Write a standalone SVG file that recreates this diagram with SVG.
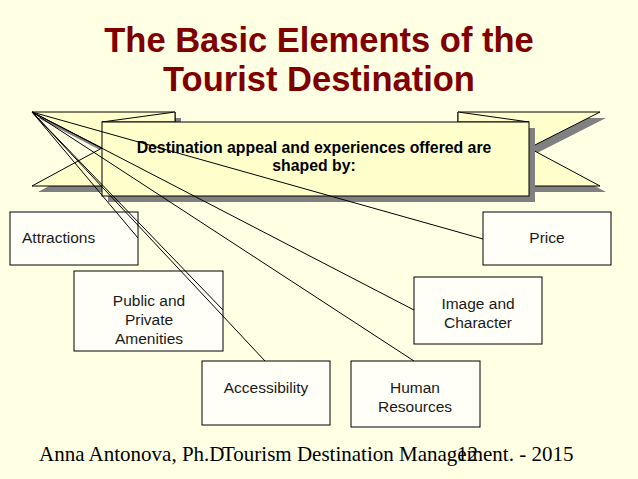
<svg xmlns="http://www.w3.org/2000/svg" width="638" height="479" viewBox="0 0 638 479">
<style>
.bg{fill:#FFFFE3}
.rib{fill:#FFFFCC;stroke:#000;stroke-width:1}
.sh{fill:#808080}
.box{fill:#FFFFF8;stroke:#000;stroke-width:1}
.lbl{font-family:"Liberation Sans",Arial,sans-serif;font-size:15.5px;fill:#1a1a1a;text-anchor:middle}
.ttl{font-family:"Liberation Sans",Arial,sans-serif;font-size:34.5px;font-weight:bold;fill:#800000;text-anchor:middle}
.ban{font-family:"Liberation Sans",Arial,sans-serif;font-size:15.8px;font-weight:bold;fill:#000;text-anchor:middle}
.ftr{font-family:"Liberation Serif","Times New Roman",serif;font-size:21px;fill:#000}
.con{stroke:#000;stroke-width:1;fill:none}
</style>
<rect class="bg" x="0" y="0" width="638" height="479"/>
<g id="title">
<text class="ttl" x="319" y="52">The Basic Elements of the</text>
<text class="ttl" x="319" y="91">Tourist Destination</text>
</g>
<g id="banner">
<polygon class="sh" points="38,118 181,118 181,192 38,192 108,154"/>
<polygon class="rib" points="32,112 175,112 175,186 32,186 102,148"/>
<polygon class="sh" points="606,118 464,118 464,192 606,192 535,154"/>
<polygon class="rib" points="600,112 458,112 458,186 600,186 529,148"/>
<polygon class="rib" points="102,122 175,112 175,122"/>
<polygon class="rib" points="529,122 458,112 458,122"/>
<rect class="sh" x="108" y="128" width="427" height="74"/>
<rect class="rib" x="102" y="122" width="427" height="74"/>
<text class="ban" x="314" y="153">Destination appeal and experiences offered are</text>
<text class="ban" x="314" y="171">shaped by:</text>
</g>
<g id="attractions">
<rect class="box" x="10" y="212" width="128" height="53"/>
<text class="lbl" x="22" y="243" style="text-anchor:start">Attractions</text>
</g>
<g id="amenities">
<rect class="box" x="74" y="271" width="149" height="80"/>
<text class="lbl" x="149" y="306">Public and</text>
<text class="lbl" x="149" y="325">Private</text>
<text class="lbl" x="149" y="344">Amenities</text>
</g>
<g id="accessibility">
<rect class="box" x="202" y="361" width="128" height="64"/>
<text class="lbl" x="266" y="393">Accessibility</text>
</g>
<g id="human-resources">
<rect class="box" x="351" y="361" width="129" height="66"/>
<text class="lbl" x="415" y="393">Human</text>
<text class="lbl" x="415" y="412">Resources</text>
</g>
<g id="image-character">
<rect class="box" x="414" y="277" width="128" height="67"/>
<text class="lbl" x="478" y="309">Image and</text>
<text class="lbl" x="478" y="328">Character</text>
</g>
<g id="price">
<rect class="box" x="483" y="212" width="128" height="53"/>
<text class="lbl" x="547" y="243">Price</text>
</g>
<g id="connectors">
<line class="con" x1="32" y1="112" x2="138" y2="238"/>
<line class="con" x1="32" y1="112" x2="223" y2="310"/>
<line class="con" x1="32" y1="112" x2="265" y2="361"/>
<line class="con" x1="32" y1="112" x2="414" y2="361"/>
<line class="con" x1="32" y1="112" x2="414" y2="310"/>
<line class="con" x1="32" y1="112" x2="483" y2="239"/>
</g>
<g id="footer">
<text class="ftr" x="39" y="461">Anna Antonova, Ph.D</text>
<text class="ftr" x="222" y="461">Tourism Destination Management. - 2015</text>
<text class="ftr" x="457" y="461">12</text>
</g>
</svg>
